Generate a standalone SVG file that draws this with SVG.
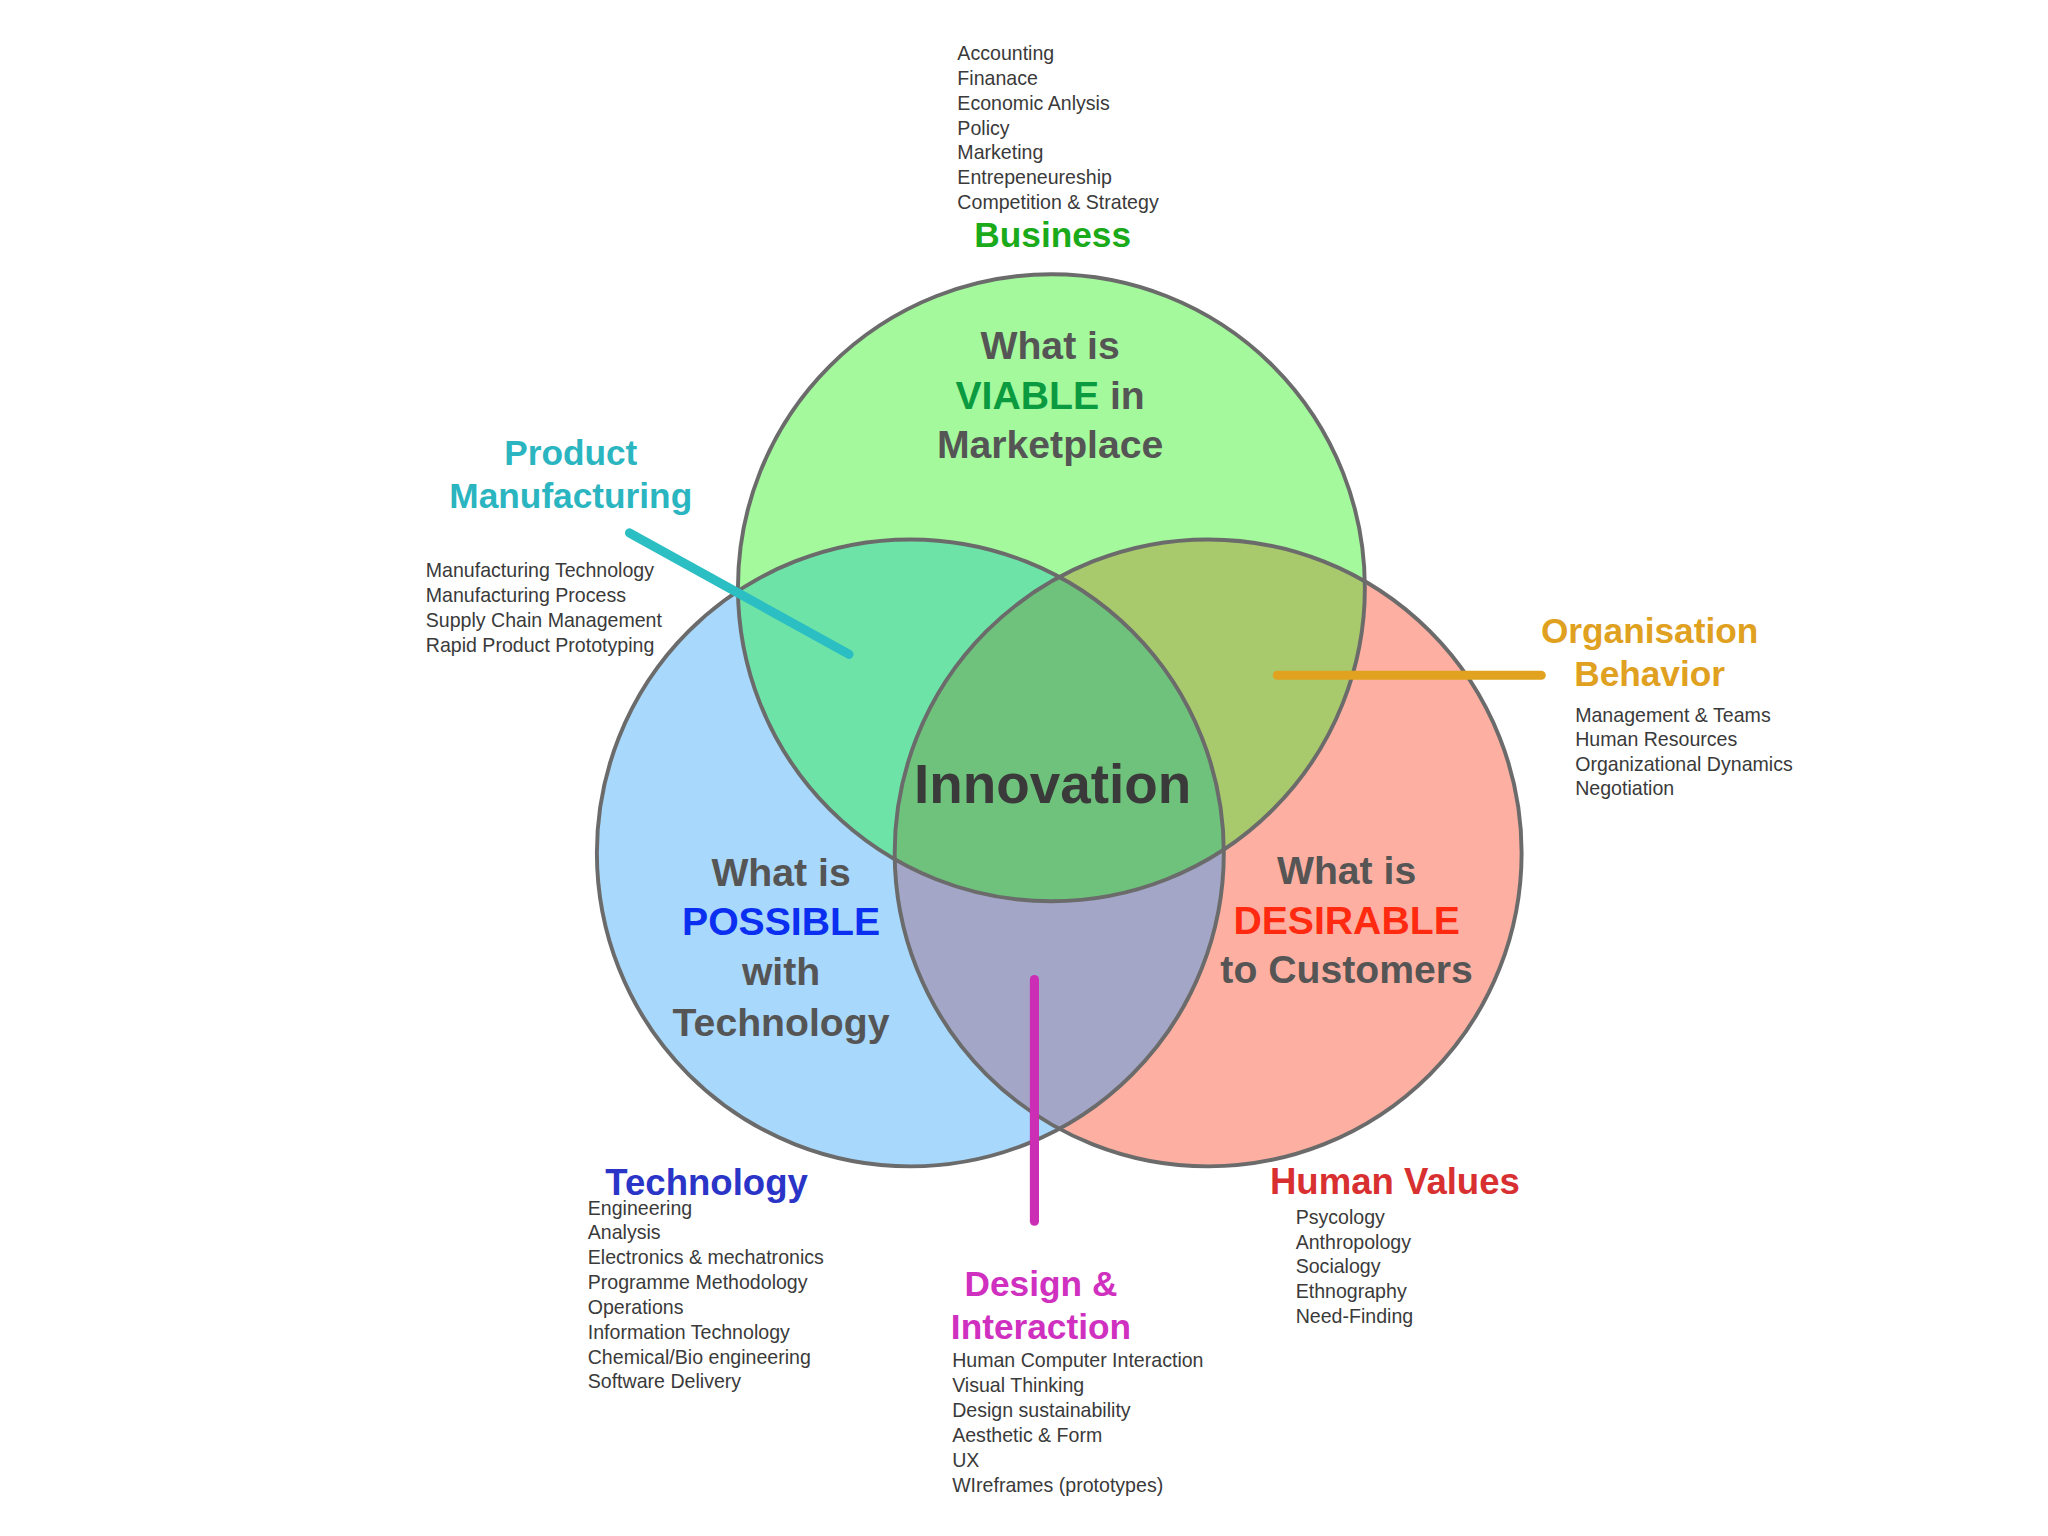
<svg xmlns="http://www.w3.org/2000/svg" width="2048" height="1536" viewBox="0 0 2048 1536">
<style>
.s{font-family:"Helvetica Neue","Liberation Sans",Arial,sans-serif;font-size:15px;fill:#3a3a3a}
.h{font-family:"Liberation Sans",Arial,sans-serif;font-weight:bold;font-size:27px;text-anchor:middle}
.c{font-family:"Liberation Sans",Arial,sans-serif;font-weight:bold;font-size:30px;text-anchor:middle;fill:#555}
.ln{stroke-width:7;stroke-linecap:round;fill:none}
.o{fill:none;stroke:#6b6b6b;stroke-width:3}
</style>
<defs>
<clipPath id="cg"><circle cx="805" cy="450" r="240"/></clipPath>
<clipPath id="cb"><circle cx="697" cy="653" r="240"/></clipPath>
<clipPath id="cr"><circle cx="925" cy="653" r="240"/></clipPath>
</defs>
<rect width="2048" height="1536" fill="#fff"/>
<g transform="scale(1.3061)">
<g id="circles">
<circle cx="697" cy="653" r="240" fill="#a8d8fb"/>
<circle cx="925" cy="653" r="240" fill="#fdb0a2"/>
<circle cx="805" cy="450" r="240" fill="#a4f99c"/>
<circle cx="925" cy="653" r="240" fill="#a3a6c6" clip-path="url(#cb)"/>
<circle cx="697" cy="653" r="240" fill="#6ee3a8" clip-path="url(#cg)"/>
<circle cx="925" cy="653" r="240" fill="#a8c96c" clip-path="url(#cg)"/>
<g clip-path="url(#cg)"><circle cx="925" cy="653" r="240" fill="#6fc27c" clip-path="url(#cb)"/></g>
<circle class="o" cx="697" cy="653" r="240"/>
<circle class="o" cx="925" cy="653" r="240"/>
<circle class="o" cx="805" cy="450" r="240"/>
</g>
<g id="connectors">
<line class="ln" x1="482" y1="408" x2="650" y2="501" stroke="#2bbfc3"/>
<line class="ln" x1="978" y1="517" x2="1180" y2="517" stroke="#e0a21f"/>
<line class="ln" x1="792" y1="750" x2="792" y2="935" stroke="#cc2db5"/>
</g>
<g id="business">
<text class="s" x="733" y="46">Accounting</text>
<text class="s" x="733" y="65">Finanace</text>
<text class="s" x="733" y="84">Economic Anlysis</text>
<text class="s" x="733" y="103">Policy</text>
<text class="s" x="733" y="122">Marketing</text>
<text class="s" x="733" y="141">Entrepeneureship</text>
<text class="s" x="733" y="160">Competition &amp; Strategy</text>
<text class="h" x="806" y="189" fill="#1aaa1a">Business</text>
</g>
<g id="viable">
<text class="c" x="804" y="275">What is</text>
<text class="c" x="804" y="313"><tspan fill="#0a9a40">VIABLE</tspan> in</text>
<text class="c" x="804" y="351">Marketplace</text>
</g>
<g id="product">
<text class="h" x="437" y="356" fill="#2ab5c0">Product</text>
<text class="h" x="437" y="389" fill="#2ab5c0">Manufacturing</text>
<text class="s" x="326" y="442">Manufacturing Technology</text>
<text class="s" x="326" y="461">Manufacturing Process</text>
<text class="s" x="326" y="480">Supply Chain Management</text>
<text class="s" x="326" y="499">Rapid Product Prototyping</text>
</g>
<g id="org">
<text class="h" x="1263" y="492" fill="#e0a020">Organisation</text>
<text class="h" x="1263" y="525" fill="#e0a020">Behavior</text>
<text class="s" x="1206" y="553">Management &amp; Teams</text>
<text class="s" x="1206" y="571">Human Resources</text>
<text class="s" x="1206" y="590">Organizational Dynamics</text>
<text class="s" x="1206" y="609">Negotiation</text>
</g>
<g id="innovation">
<text class="c" x="806" y="615" style="font-size:42px;fill:#3a3a3a">Innovation</text>
</g>
<g id="possible">
<text class="c" x="598" y="678">What is</text>
<text class="c" x="598" y="716" fill="#0a2ff0" style="fill:#0a2ff0">POSSIBLE</text>
<text class="c" x="598" y="754">with</text>
<text class="c" x="598" y="793">Technology</text>
</g>
<g id="desirable">
<text class="c" x="1031" y="677">What is</text>
<text class="c" x="1031" y="715" style="fill:#ff2a10">DESIRABLE</text>
<text class="c" x="1031" y="753">to Customers</text>
</g>
<g id="technology">
<text class="h" x="541" y="915" fill="#2a35c8" style="font-size:28px">Technology</text>
<text class="s" x="450" y="930">Engineering</text>
<text class="s" x="450" y="949">Analysis</text>
<text class="s" x="450" y="968">Electronics &amp; mechatronics</text>
<text class="s" x="450" y="987">Programme Methodology</text>
<text class="s" x="450" y="1006">Operations</text>
<text class="s" x="450" y="1025">Information Technology</text>
<text class="s" x="450" y="1044">Chemical/Bio engineering</text>
<text class="s" x="450" y="1063">Software Delivery</text>
</g>
<g id="human">
<text class="h" x="1068" y="914" fill="#d83030" style="font-size:28px">Human Values</text>
<text class="s" x="992" y="937">Psycology</text>
<text class="s" x="992" y="956">Anthropology</text>
<text class="s" x="992" y="975">Socialogy</text>
<text class="s" x="992" y="994">Ethnography</text>
<text class="s" x="992" y="1013">Need-Finding</text>
</g>
<g id="design">
<text class="h" x="797" y="992" fill="#d030c0">Design &amp;</text>
<text class="h" x="797" y="1025" fill="#d030c0">Interaction</text>
<text class="s" x="729" y="1047">Human Computer Interaction</text>
<text class="s" x="729" y="1066">Visual Thinking</text>
<text class="s" x="729" y="1085">Design sustainability</text>
<text class="s" x="729" y="1104">Aesthetic &amp; Form</text>
<text class="s" x="729" y="1123">UX</text>
<text class="s" x="729" y="1142">WIreframes (prototypes)</text>
</g>
</g>
</svg>
